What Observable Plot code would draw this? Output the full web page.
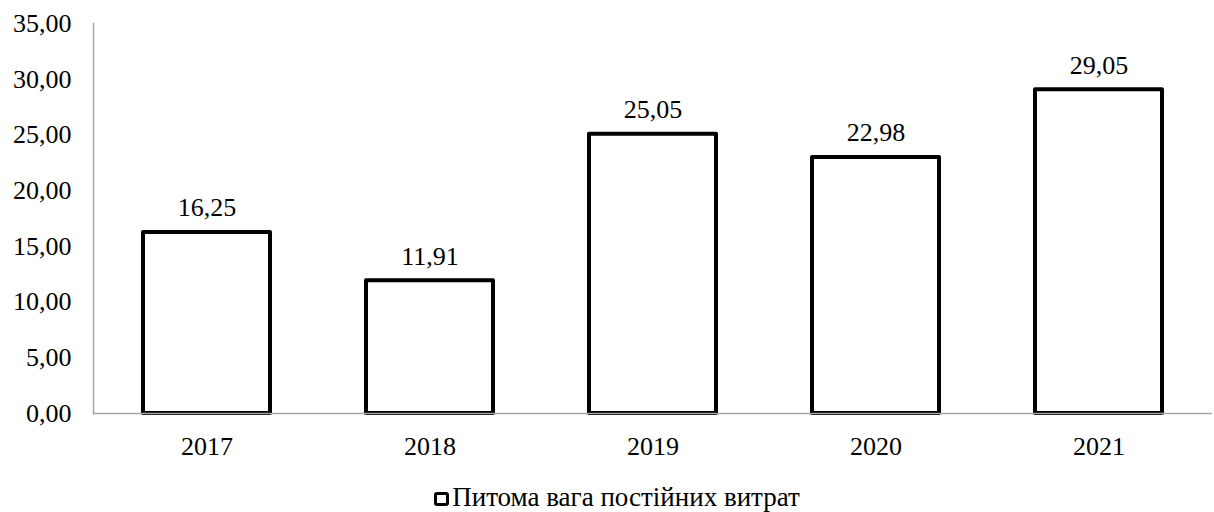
<!DOCTYPE html>
<html>
<head>
<meta charset="utf-8">
<script src="https://cdn.jsdelivr.net/npm/d3@7"></script>
<script src="https://cdn.jsdelivr.net/npm/@observablehq/plot@0.6"></script>
<style>
  body { margin: 0; background: #fff; }
</style>
</head>
<body>
<div id="chart"></div>
<script>
const years = ["2017", "2018", "2019", "2020", "2021"];
const values = [16.25, 11.91, 25.05, 22.98, 29.05];
const yTicks = [0, 5, 10, 15, 20, 25, 30, 35];
const seriesName = "Питома вага постійних витрат";

const data = years.map((y, i) => ({year: y, value: values[i]}));
const fmt = d => d.toFixed(2).replace(".", ",");
const FONT = "Liberation Serif";
const FONTCSS = "\"Liberation Serif\", serif";

const chart = Plot.plot({
  width: 1214,
  height: 460,
  marginLeft: 93,
  marginRight: 2,
  marginTop: 23,
  marginBottom: 47,
  style: { fontFamily: FONT, fontSize: "26px", color: "#000", background: "#fff" },
  x: { domain: years, paddingInner: 0.43, paddingOuter: 0.215, label: null },
  y: { domain: [0, 35], label: null },
  marks: [
    Plot.axisY({ ticks: yTicks, tickFormat: fmt, tickSize: 0, tickPadding: 22, fontSize: 26, fontFamily: FONT, label: null }),
    Plot.axisX({ tickSize: 0, tickPadding: 23, fontSize: 26, fontFamily: FONT, label: null }),
    Plot.frame({ anchor: "left", stroke: "#a6a6a6", strokeWidth: 1.5 }),
    Plot.barY(data, { x: "year", y: "value", fill: "#fff", stroke: "#000", strokeWidth: 4, strokeLinejoin: "round" }),
    Plot.ruleY([0], { stroke: "#a6a6a6", strokeWidth: 1.5 }),
    Plot.text(data, { x: "year", y: "value", text: d => fmt(d.value), lineAnchor: "bottom", dy: -16, fontSize: 26, fontFamily: FONT, fill: "#000" })
  ]
});
chart.style.setProperty("font-family", FONTCSS, "important");
chart.querySelectorAll("g, text, tspan").forEach(t => {
  t.setAttribute("font-family", FONT);
  t.style.setProperty("font-family", FONTCSS, "important");
});
document.getElementById("chart").appendChild(chart);

const legend = document.createElement("div");
legend.style.display = "flex";
legend.style.justifyContent = "center";
legend.style.alignItems = "center";
legend.style.marginTop = "22px";
legend.style.paddingLeft = "20px";
legend.style.setProperty("font-family", FONTCSS, "important");
legend.style.fontSize = "27px";
legend.style.lineHeight = "30px";
legend.style.color = "#000";
const sw = document.createElement("span");
sw.style.display = "inline-block";
sw.style.width = "9px";
sw.style.height = "8px";
sw.style.border = "3.5px solid #000";
sw.style.borderRadius = "3px";
sw.style.marginRight = "3px";
sw.style.marginTop = "4px";
const lbl = document.createElement("span");
lbl.textContent = seriesName;
lbl.style.setProperty("font-family", FONTCSS, "important");
legend.appendChild(sw);
legend.appendChild(lbl);
document.body.appendChild(legend);
</script>
</body>
</html>
